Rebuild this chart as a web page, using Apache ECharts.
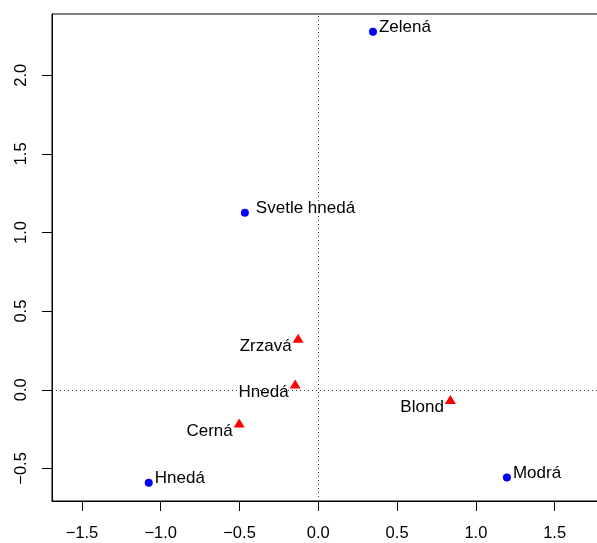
<!DOCTYPE html>
<html>
<head>
<meta charset="utf-8">
<script src="https://cdn.jsdelivr.net/npm/echarts@6/dist/echarts.min.js"></script>
<style>html,body{margin:0;padding:0;background:#fff}#c{width:597px;height:543px}</style>
</head>
<body>
<div id="c"></div>
<script>
// Eye colours (blue dots)
var eyeNames = ['Zelená', 'Svetle hnedá', 'Hnedá', 'Modrá'];
var eyeX = [0.347, -0.466, -1.076, 1.197];
var eyeY = [2.276, 1.126, -0.591, -0.557];
// Hair colours (red triangles)
var hairNames = ['Zrzavá', 'Hnedá', 'Blond', 'Cerná'];
var hairX = [-0.128, -0.147, 0.838, -0.502];
var hairY = [0.327, 0.037, -0.062, -0.211];
// Axis ticks
var xTicks = [-1.5, -1.0, -0.5, 0.0, 0.5, 1.0, 1.5];
var yTicks = [-0.5, 0.0, 0.5, 1.0, 1.5, 2.0];

var FONT = 'Liberation Sans';
function fmt(v) {
  var s = Number(v).toFixed(1);
  return s.replace('-', '\u2212');
}

var eyeData = eyeNames.map(function (n, i) {
  var d = { name: n, value: [eyeX[i], eyeY[i]] };
  if (n === 'Svetle hnedá') d.label = { distance: 7 };
  return d;
});
var hairData = hairNames.map(function (n, i) {
  return { name: n, value: [hairX[i], hairY[i]] };
});

var chart = echarts.init(document.getElementById('c'), null, { renderer: 'canvas' });
chart.setOption({
  animation: false,
  backgroundColor: '#fff',
  grid: {
    left: 52, top: 14, width: 546, height: 487,
    show: true, borderColor: '#000', borderWidth: 1,
    backgroundColor: 'transparent',
    containLabel: false, outerBoundsMode: 'none'
  },
  xAxis: {
    type: 'value', min: -1.69, max: 1.775,
    axisLine: { show: true, onZero: false, lineStyle: { color: '#000', width: 1 } },
    axisTick: { show: true, length: 10, customValues: xTicks, lineStyle: { color: '#000' } },
    axisLabel: {
      customValues: xTicks, formatter: fmt, margin: 24,
      color: '#000', fontFamily: FONT, fontSize: 16.5
    },
    splitLine: { show: false }
  },
  yAxis: {
    type: 'value', min: -0.707, max: 2.389,
    axisLine: { show: true, onZero: false, lineStyle: { color: '#000', width: 1 } },
    axisTick: { show: true, length: 10, customValues: yTicks, lineStyle: { color: '#000' } },
    axisLabel: {
      customValues: yTicks, formatter: fmt, margin: 22, rotate: 90,
      color: '#000', fontFamily: FONT, fontSize: 16.5
    },
    splitLine: { show: false }
  },
  series: [
    {
      type: 'scatter',
      data: eyeData,
      symbol: 'circle', symbolSize: 8,
      itemStyle: { color: '#0000ff', opacity: 1 },
      label: {
        show: true, position: 'right', distance: 2, offset: [0, -4],
        formatter: '{b}', color: '#000', fontFamily: FONT, fontSize: 17,
        textBorderWidth: 0
      },
      emphasis: { disabled: true },
      markLine: {
        silent: true, symbol: 'none', animation: false,
        label: { show: false },
        lineStyle: { color: '#444', width: 1, type: [1, 3], opacity: 1 },
        data: [{ xAxis: 0 }, { yAxis: 0 }]
      },
      z: 3
    },
    {
      type: 'scatter',
      data: hairData,
      symbol: 'triangle', symbolSize: [11, 9],
      itemStyle: { color: '#ff0000', opacity: 1 },
      label: {
        show: true, position: 'left', distance: 1, offset: [0, 8],
        formatter: '{b}', color: '#000', fontFamily: FONT, fontSize: 17,
        textBorderWidth: 0
      },
      emphasis: { disabled: true },
      z: 3
    }
  ]
});
</script>
</body>
</html>
